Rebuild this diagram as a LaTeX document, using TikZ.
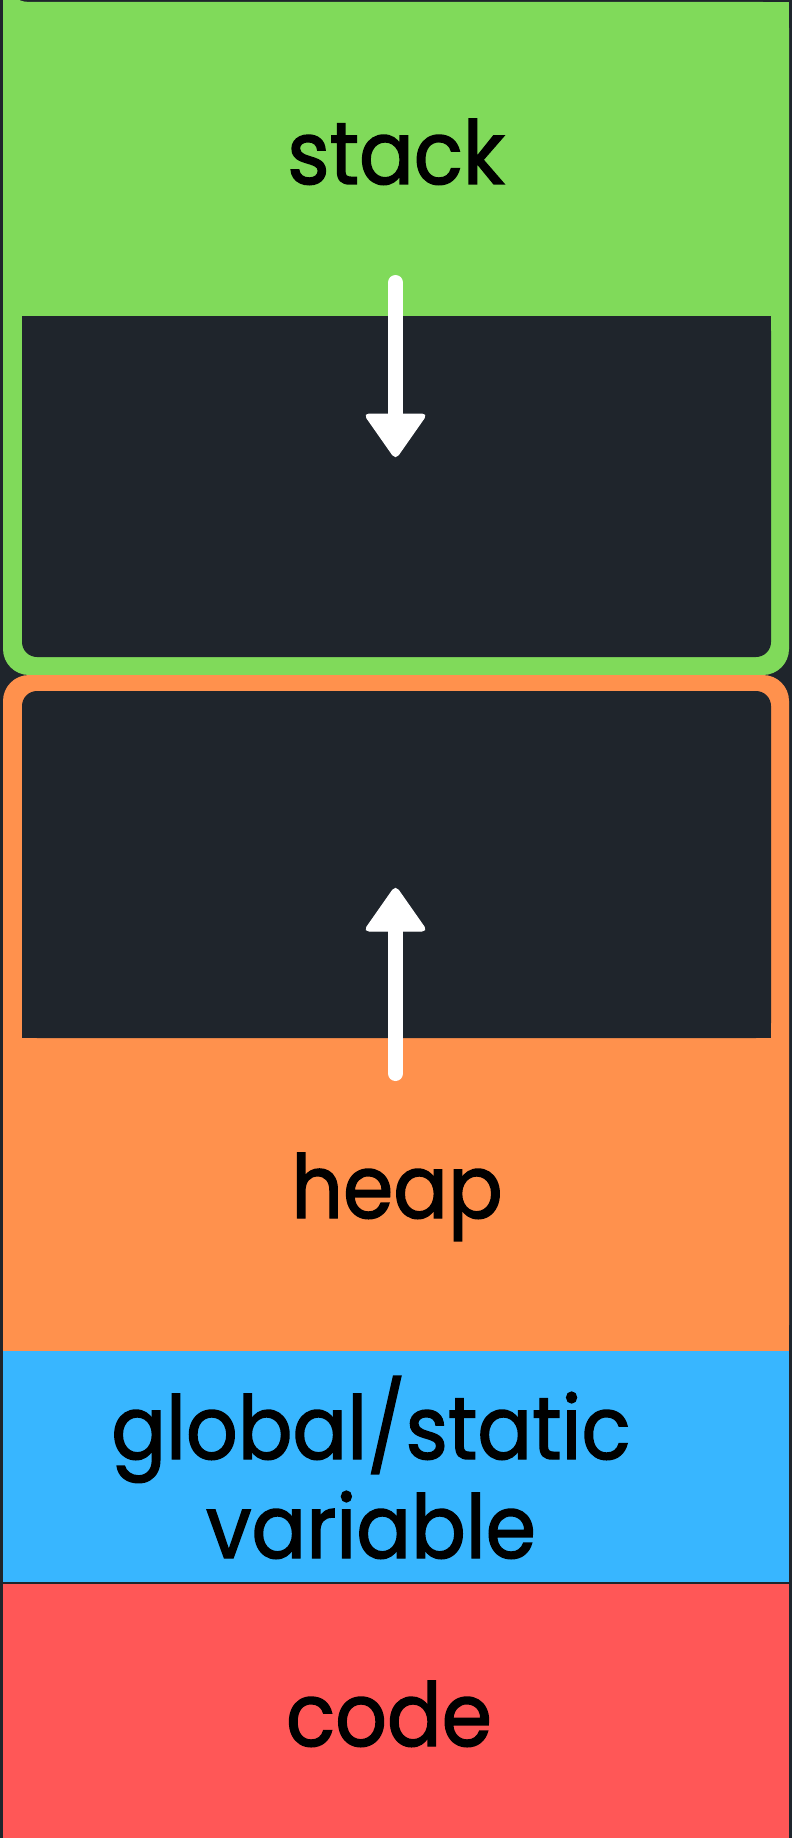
\documentclass[tikz,border=0pt]{standalone}
\usepackage{fontspec}
\setmainfont{Poppins}
\newfontfamily\labelfont{Poppins}[FakeStretch=0.92, FakeBold=1.6]
\definecolor{bgdark}{HTML}{1F252C}
\definecolor{stackgreen}{HTML}{80DA5A}
\definecolor{heaporange}{HTML}{FF914D}
\definecolor{globalblue}{HTML}{38B6FF}
\definecolor{codered}{HTML}{FF5757}
\tikzset{
  label text/.style={font=\labelfont\fontsize{88}{99}\selectfont, text=black, inner sep=0pt, anchor=base},
  growarrow/.style={draw=white, line width=15pt, line cap=round},
  arrowhead/.style={fill=white, draw=white, line width=1pt, rounded corners=5pt},
}
\begin{document}
\begin{tikzpicture}[x=1pt,y=-1pt]
\useasboundingbox (0,0) rectangle (792,1838);
\fill[bgdark] (0,0) rectangle (792,1838);
% stack segment
\fill[stackgreen, rounded corners=26pt] (3,2) -- (789,2) -- (789,675) -- (3,675) -- (3,2) -- cycle;
\fill[stackgreen] (3,2) rectangle (789,60);
\fill[bgdark, rounded corners=15pt] (22,316) -- (22,657) -- (771,657) -- (771,316) -- cycle;
\fill[bgdark] (22,316) rectangle (771,340);
% heap segment
\fill[heaporange, rounded corners=26pt] (3,1351) -- (3,675) -- (789,675) -- (789,1351) -- cycle;
\fill[heaporange] (3,1300) rectangle (789,1351);
\fill[bgdark, rounded corners=15pt] (22,1038) -- (22,691) -- (771,691) -- (771,1038) -- cycle;
\fill[bgdark] (22,1010) rectangle (771,1038);
% global/static and code
\fill[globalblue] (3,1351) rectangle (789,1582);
\fill[codered] (3,1584) rectangle (789,1838);
% labels
\node[label text] (stack) at (396,184) {stack};
\node[label text] (heap) at (397,1218) {heap};
\node[label text, align=center] (global) at (371,1558) {global/static\\variable};
\node[label text] (code) at (389,1746) {code};
% growth arrows
\coordinate (stackstart) at (395.5,282.5);
\coordinate (stackend) at (395.5,418);
\coordinate (heapstart) at (395.5,1073.5);
\coordinate (heapend) at (395.5,927);
\draw[growarrow] (stackstart) -- (stackend);
\draw[growarrow] (heapstart) -- (heapend);
\path[arrowhead] (364,414) -- (427,414) -- (395.5,459) -- cycle;
\path[arrowhead] (364,931) -- (427,931) -- (395.5,886) -- cycle;
\end{tikzpicture}
\end{document}
